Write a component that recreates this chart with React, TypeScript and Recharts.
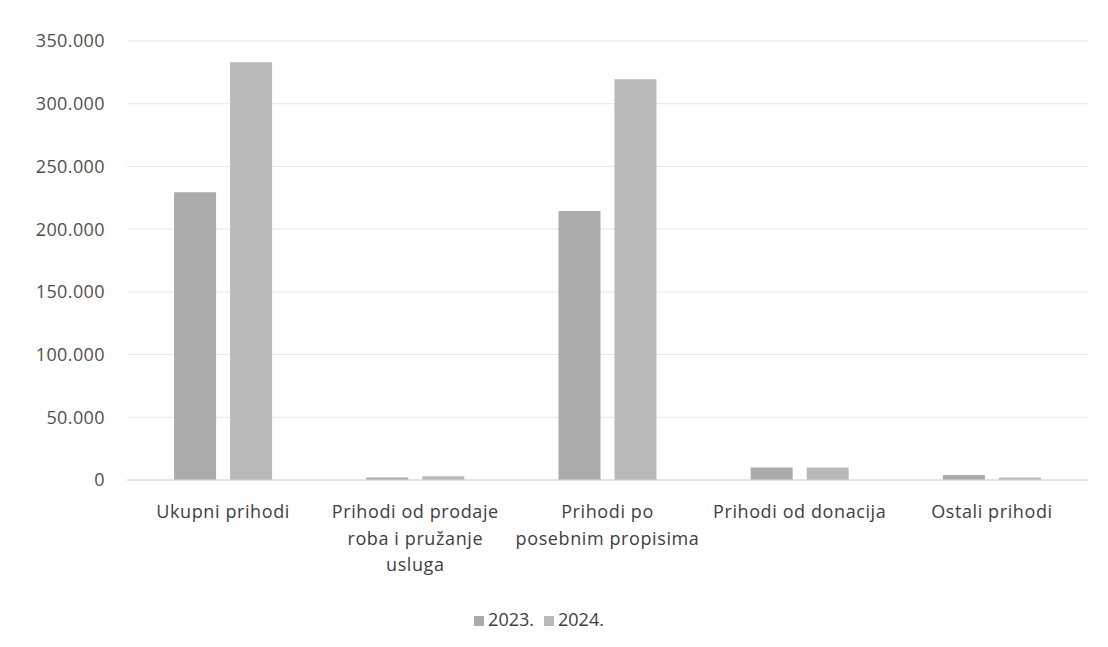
import React from "react";
import { BarChart, Bar, XAxis, YAxis, CartesianGrid, Legend } from "recharts";

const categories = [
  "Ukupni prihodi",
  "Prihodi od prodaje\nroba i pružanje\nusluga",
  "Prihodi po\nposebnim propisima",
  "Prihodi od donacija",
  "Ostali prihodi",
];
const values2023 = [229500, 2000, 214500, 10000, 4000];
const values2024 = [333000, 3000, 319500, 10000, 2000];
const yTicks = [0, 50000, 100000, 150000, 200000, 250000, 300000, 350000];

const data = categories.map((name, i) => ({
  name,
  y2023: values2023[i],
  y2024: values2024[i],
}));

const fmt = (v: number) => (v === 0 ? "0" : v.toLocaleString("de-DE"));

const FONT = "'Open Sans', sans-serif";

function CategoryTick({ x, y, payload }: any) {
  const lines = String(payload.value).split("\n");
  return (
    <g transform={`translate(${x},${y})`}>
      {lines.map((l, i) => (
        <text
          key={i}
          x={0}
          y={30 + i * 26.5}
          textAnchor="middle"
          fill="#404040"
          fontSize={18}
          letterSpacing={0.6}
          fontFamily={FONT}
        >
          {l}
        </text>
      ))}
    </g>
  );
}

export default function App() {
  return (
    <div style={{ position: "absolute", left: 0, top: 0, width: 1108, height: 647, background: "#fff" }}>
      <BarChart
        width={1108}
        height={647}
        data={data}
        margin={{ top: 41, right: 20, left: 0, bottom: 37 }}
        barCategoryGap="24.5%"
        barGap={14}
      >
        <CartesianGrid vertical={false} stroke="#e6e6e6" />
        <XAxis
          dataKey="name"
          interval={0}
          tickLine={false}
          axisLine={{ stroke: "#d6d6d6" }}
          tick={<CategoryTick />}
          height={106}
        />
        <YAxis
          width={127}
          domain={[0, 350000]}
          ticks={yTicks}
          tickFormatter={fmt}
          axisLine={false}
          tickLine={false}
          tickSize={0}
          tickMargin={22}
          tick={{ fill: "#505050", fontSize: 18, letterSpacing: 0.4, fontFamily: FONT }}
        />
        <Legend
          verticalAlign="bottom"
          iconType="square"
          iconSize={10}
          wrapperStyle={{ top: 607, fontFamily: FONT, fontSize: 18, color: "#404040" }}
          formatter={(v) => <span style={{ color: "#404040" }}>{v}</span>}
        />
        <Bar dataKey="y2023" name="2023." fill="#ababab" isAnimationActive={false} />
        <Bar dataKey="y2024" name="2024." fill="#b9b9b9" isAnimationActive={false} />
      </BarChart>
    </div>
  );
}
